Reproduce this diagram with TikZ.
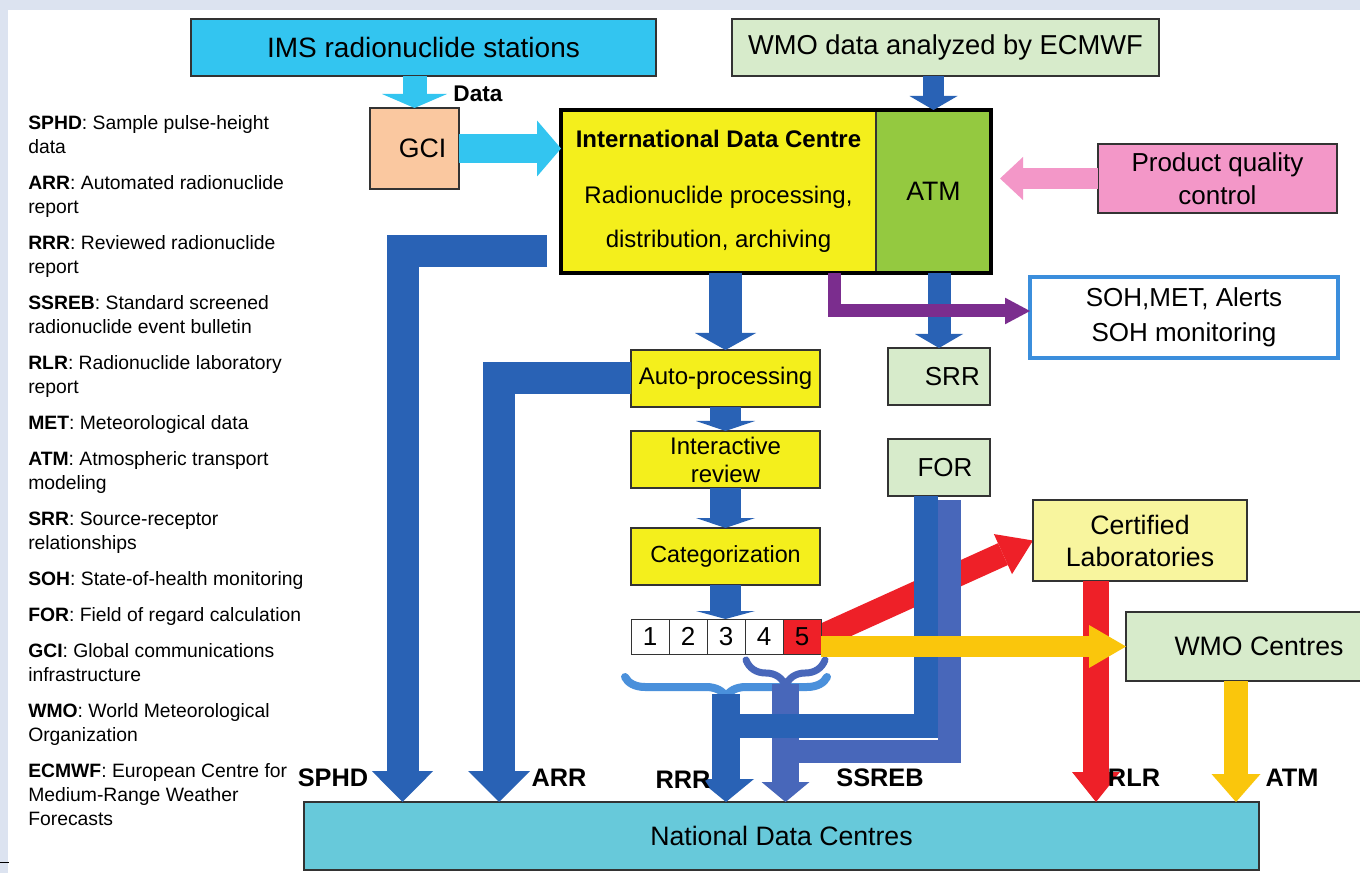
\documentclass[tikz,border=0pt]{standalone}
\usepackage{fontspec}
\setmainfont{Liberation Sans}
\usetikzlibrary{arrows.meta,calc,decorations.pathreplacing}

\definecolor{frame}{HTML}{DCE3F0}
\definecolor{boxline}{HTML}{333333}
\definecolor{imscyan}{HTML}{33C5F0}
\definecolor{palegreen}{HTML}{D7EBCB}
\definecolor{peach}{HTML}{FAC8A0}
\definecolor{idcyellow}{HTML}{F4EF1C}
\definecolor{atmgreen}{HTML}{94C940}
\definecolor{pinkbox}{HTML}{F397C8}
\definecolor{darkblue}{HTML}{2962B5}
\definecolor{forblue}{HTML}{4867BA}
\definecolor{bracelight}{HTML}{4A90DB}
\definecolor{purplearrow}{HTML}{7B2D8E}
\definecolor{sohblue}{HTML}{3B8EDC}
\definecolor{paleyellow}{HTML}{F8F59E}
\definecolor{catred}{HTML}{EE2028}
\definecolor{amber}{HTML}{FAC60C}
\definecolor{ndccyan}{HTML}{67C9DA}

\pgfdeclarelayer{bg}
\pgfsetlayers{bg,main}

\tikzset{every picture/.style={line width=0.75pt}}
\tikzset{
  box/.style={draw=boxline, line width=1pt, inner sep=0pt, outer sep=0pt, align=center},
  fat/.style args={#1/#2/#3}{line width=#1, line join=miter, -{Triangle[length=#2,width=#3,line width=0pt]}},
  lbl/.style={inner sep=0pt, font=\bfseries\fontsize{19}{23}\selectfont},
  cell/.style={box, line width=0.75pt, minimum width=28.5pt, minimum height=26.25pt, font=\fontsize{19.5}{23}\selectfont},
  bracket/.style={decorate, decoration={brace, amplitude=#1}, line cap=round},
}

\begin{document}
\begin{tikzpicture}[x=0.75pt,y=0.75pt,yscale=-1,xscale=1]
\useasboundingbox (0,0) rectangle (1360,873);
\begin{pgfonlayer}{bg}
\fill[frame] (0,0) rectangle (1360,873);
\fill[white] (8,10) rectangle (1360,873);
\draw (0,862.5) -- (9,862.5);
\end{pgfonlayer}

% Legend
\node[anchor=north west, inner sep=0pt, align=left, font=\fontsize{14.5}{18}\selectfont] (legend) at (28,115) {%
\textbf{SPHD}: Sample pulse-height\\data\\[9pt]
\textbf{ARR}: Automated radionuclide\\report\\[9pt]
\textbf{RRR}: Reviewed radionuclide\\report\\[9pt]
\textbf{SSREB}: Standard screened\\radionuclide event bulletin\\[9pt]
\textbf{RLR}: Radionuclide laboratory\\report\\[9pt]
\textbf{MET}: Meteorological data\\[9pt]
\textbf{ATM}: Atmospheric transport\\modeling\\[9pt]
\textbf{SRR}: Source-receptor\\relationships\\[9pt]
\textbf{SOH}: State-of-health monitoring\\[9pt]
\textbf{FOR}: Field of regard calculation\\[9pt]
\textbf{GCI}: Global communications\\infrastructure\\[9pt]
\textbf{WMO}: World Meteorological\\Organization\\[9pt]
\textbf{ECMWF}: European Centre for\\Medium-Range Weather\\Forecasts};

%Shape: Rectangles
\node[box, fill=imscyan, minimum width=348.75pt, minimum height=42.75pt, font=\fontsize{21}{25}\selectfont] (ims) at (423.5,47.5) {IMS radionuclide stations};
\node[box, fill=palegreen, minimum width=320.25pt, minimum height=42.75pt, font=\fontsize{20.5}{24}\selectfont] (wmo) at (945.5,47.5) {WMO data analyzed by ECMWF};
\node[box, fill=peach, minimum width=66.75pt, minimum height=60.75pt, font=\fontsize{20}{24}\selectfont] (gci) at (414.5,148.5) {\hspace*{12pt}GCI};
\node[box, fill=idcyellow, minimum width=236.25pt, minimum height=122.25pt, font=\fontsize{18}{21.6}\selectfont] (idc) at (718.5,191.5) {\textbf{International Data Centre}\\[20.4pt]Radionuclide processing,\\[11.4pt]distribution, archiving};
\node[box, fill=atmgreen, minimum width=86.25pt, minimum height=122.25pt, font=\fontsize{20}{24}\selectfont] (atm) at (933.5,191.5) {ATM};
\draw[line width=2.5pt] (idc.north west) rectangle (atm.south east);
\node[box, fill=pinkbox, minimum width=179.25pt, minimum height=51.75pt, font=\fontsize{19.5}{24.75}\selectfont] (pqc) at (1217.5,178.5) {Product quality\\control};
\node[box, draw=sohblue, line width=2.5pt, fill=white, minimum width=231pt, minimum height=60.75pt, font=\fontsize{19.5}{26.25}\selectfont] (soh) at (1184,317.5) {SOH,MET, Alerts\\SOH monitoring};
\node[box, fill=idcyellow, minimum width=141.75pt, minimum height=42.75pt, font=\fontsize{18}{21}\selectfont] (autoproc) at (725.5,378.5) {Auto-processing};
\node[box, fill=idcyellow, minimum width=141.75pt, minimum height=42.75pt, font=\fontsize{18}{21}\selectfont] (inter) at (725.5,459.5) {Interactive\\review};
\node[box, fill=idcyellow, minimum width=141.75pt, minimum height=42.75pt, font=\fontsize{17.5}{21}\selectfont] (categ) at (725.5,556.5) {Categorization};
\node[box, fill=palegreen, minimum width=76.5pt, minimum height=42.75pt, font=\fontsize{19.5}{23}\selectfont] (srr) at (939,376.5) {\hspace*{20pt}SRR};
\node[box, fill=palegreen, minimum width=76.5pt, minimum height=42.75pt, font=\fontsize{19.5}{23}\selectfont] (forbox) at (939,467.5) {\hspace*{9pt}FOR};
\node[box, fill=paleyellow, minimum width=160.5pt, minimum height=60.75pt, font=\fontsize{20}{24}\selectfont] (cert) at (1140,540.5) {Certified\\Laboratories};
\node[box, fill=palegreen, minimum width=199.5pt, minimum height=51.75pt, font=\fontsize{20}{24}\selectfont] (wmoc) at (1259,646.5) {WMO Centres};
\node[box, fill=ndccyan, minimum width=716.25pt, minimum height=51pt, font=\fontsize{20}{24}\selectfont] (ndc) at (781.5,836) {National Data Centres};
\foreach \i/\col in {1/white,2/white,3/white,4/white,5/catred}
  \node[cell, fill=\col] (c\i) at (612+38*\i,636.5) {\i};

%Block arrows
\draw[fat=18pt/10.5pt/48.75pt, imscyan] (ims.south -| gci.north) -- (gci.north);
\draw[fat=21.75pt/18pt/42pt, imscyan] (gci.east) -- (gci.east -| idc.west);
\draw[fat=15.75pt/10.5pt/36pt, darkblue] (wmo.south -| atm.north) -- (atm.north);
\draw[fat=15.75pt/17.25pt/32.25pt, pinkbox] (pqc.west) -- ($(atm.east |- pqc.west)+(9,0)$);
\coordinate (sphd) at ($(idc.west)+(-14,60)$);
\draw[fat=24pt/23.25pt/46pt, darkblue] (sphd) -| ($(ndc.north west)+(98.5,0)$);
\draw[fat=24pt/23.25pt/46.5pt, darkblue] (autoproc.west) -| ($(ndc.north west)+(195,0)$);
\draw[fat=24.75pt/12.75pt/45.75pt, darkblue] (autoproc.north |- idc.south) -- (autoproc.north);
\draw[fat=17.25pt/10.5pt/36pt, darkblue] (srr.north |- atm.south) -- (srr.north);
\draw[fat=9.75pt/18.75pt/20pt, purplearrow] ($(idc.south east)+(-41.5,0)$) |- ($(soh.west)+(0,-6.5)$);
\draw[fat=23.25pt/7.5pt/44.25pt, darkblue] (autoproc.south) -- (inter.north);
\draw[fat=23.25pt/7.5pt/44.25pt, darkblue] (inter.south) -- (categ.north);
\draw[fat=23.25pt/6pt/44.25pt, darkblue] (categ.south) -- (categ.south |- c3.north);

% category 5 to the laboratories
\begin{pgfonlayer}{bg}
\draw[fat=18pt/24.75pt/33pt, catred] (c5.east) -- (cert.west);
\end{pgfonlayer}
\coordinate (rlr) at ($(cert.south)+(-44,0)$);
\draw[fat=19.5pt/22.5pt/36pt, catred] (rlr) -- (rlr |- ndc.north);

% braces over the categories
\coordinate (rrr) at (726,694);
\coordinate (ssreb) at (785.5,684);
\draw[bracket=15pt, bracelight, line width=6pt] (827,677) -- (625,677);
\draw[fat=21pt/17.25pt/42pt, darkblue] (rrr) -- (rrr |- ndc.north);
\draw[bracket=19.5pt, forblue, line width=5.25pt] (825,660) -- (746,660);
\draw[fat=20.25pt/15pt/36pt, forblue] (ssreb) -- (ssreb |- ndc.north);

% FOR columns
\coordinate (ssrebjoin) at (797,751.5);
\coordinate (rrrjoin) at (738,726);
\draw[line width=17.25pt, line join=miter, forblue] ($(forbox.south)+(10.5,4)$) |- (ssrebjoin);
\draw[line width=18pt, line join=miter, darkblue] ($(forbox.south)+(-13.5,0)$) |- (rrrjoin);

\draw[fat=15.75pt/27.75pt/32.25pt, amber] (c5.east |- wmoc.west) -- (wmoc.west);
\coordinate (atmo) at ($(wmoc.south)+(-23,0)$);
\draw[fat=18pt/21pt/36.75pt, amber] (atmo) -- (atmo |- ndc.north);

% Text Node
\node[inner sep=0pt, font=\bfseries\fontsize{17}{20}\selectfont] (ldata) at (478,94) {Data};
\node[lbl] (lsphd) at (333,778) {SPHD};
\node[lbl] (larr) at (559,778) {ARR};
\node[lbl] (lrrr) at (683,780) {RRR};
\node[lbl] (lssreb) at (880,778) {SSREB};
\node[lbl] (lrlr) at (1134,778) {RLR};
\node[lbl] (latm) at (1292,778) {ATM};

\end{tikzpicture}
\end{document}
